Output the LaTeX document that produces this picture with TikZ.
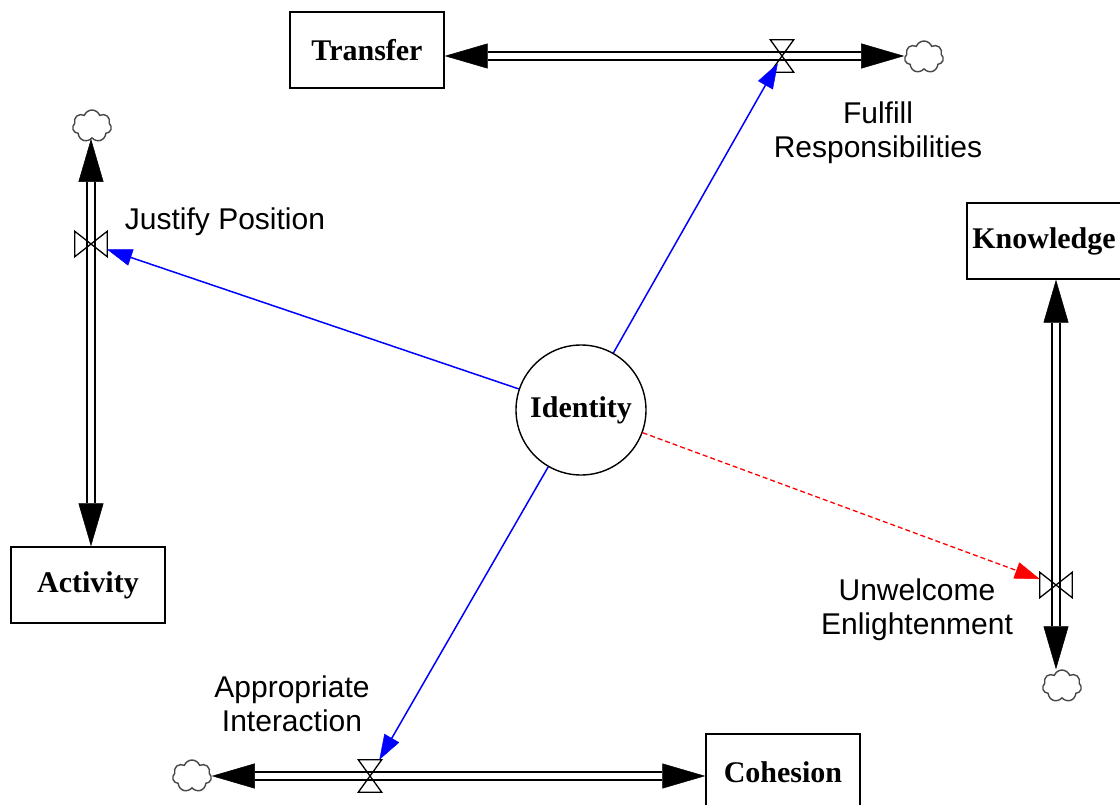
\documentclass[tikz,border=0pt]{standalone}
\usepackage{fontspec}
\setmainfont{Liberation Serif}
\newfontfamily\labelfont{Liberation Sans}
\usetikzlibrary{arrows.meta,shapes.symbols}

\tikzset{
  stock/.style={draw, line width=1.4pt, minimum width=154pt, minimum height=76pt,
    inner sep=0pt, font=\fontsize{30}{34}\selectfont\bfseries},
  level/.style={draw, circle, line width=1.4pt, minimum size=130pt, inner sep=0pt,
    font=\fontsize{30}{34}\selectfont\bfseries},
  source/.style={cloud, cloud puffs=7, cloud puff arc=140, aspect=1.2,
    minimum width=39pt, minimum height=32pt, inner sep=0pt,
    draw=black!72, line width=1.4pt},
  valveh/.style={minimum width=23pt, minimum height=32pt, inner sep=0pt},
  valvev/.style={minimum width=32pt, minimum height=25pt, inner sep=0pt},
  valveline/.style={draw, line width=1.3pt, line join=miter},
  pipe/.style={draw, line width=2.1pt, double=white, double distance=5.3pt,
    -{Triangle[length=43pt,width=25pt,line width=0.5pt]}},
  link/.style={draw=blue, line width=1.5pt,
    -{Triangle[length=25pt,width=17pt,line width=0.5pt]}},
  redlink/.style={draw=red, line width=1.3pt, dash pattern=on 5pt off 3pt,
    -{Triangle[length=25pt,width=17pt,line width=0.5pt]}},
  flowlabel/.style={align=center, font=\labelfont\fontsize{30}{34}\selectfont}
}

\begin{document}
\begin{tikzpicture}[x=1pt,y=-1pt]
  \useasboundingbox (0,0) rectangle (1120,805);
  \clip (0,0) rectangle (1120,805);

  % stocks and the central level
  \node[stock] (tr)  at (367,50)  {Transfer};
  \node[stock] (act) at (88,585)  {Activity};
  \node[stock] (kn)  at (1044,241) {Knowledge};
  \node[stock] (coh) at (783,772) {Cohesion};
  \node[level] (id)  at (581,410) {Identity};

  % clouds (sources and sinks)
  \node[source] (cT) at (924,57)  {};
  \node[source] (cJ) at (92,126)  {};
  \node[source] (cU) at (1062,686) {};
  \node[source] (cA) at (192,776) {};

  % valves
  \node[valveh] (vT) at (782,56)  {};
  \node[valvev] (vJ) at (91,244)  {};
  \node[valvev] (vU) at (1056,585) {};
  \node[valveh] (vA) at (370,776) {};

  % flow pipes
  \draw[pipe] (vT.center) -- (vT -| tr.east);
  \draw[pipe] (vT.center) -- (vT -| cT.west);
  \draw[pipe] (vJ.center) -- (vJ |- cJ.south);
  \draw[pipe] (vJ.center) -- (vJ |- act.north);
  \draw[pipe] (vU.center) -- (vU |- kn.south);
  \draw[pipe] (vU.center) -- (vU |- cU.north);
  \draw[pipe] (vA.center) -- (vA -| cA.east);
  \draw[pipe] (vA.center) -- (vA -| coh.west);

  % valve symbols
  \draw[valveline] (vT.north west) -- (vT.north east) -- (vT.south west) -- (vT.south east) -- cycle;
  \draw[valveline] (vA.north west) -- (vA.north east) -- (vA.south west) -- (vA.south east) -- cycle;
  \draw[valveline] (vJ.north west) -- (vJ.south west) -- (vJ.north east) -- (vJ.south east) -- cycle;
  \draw[valveline] (vU.north west) -- (vU.south west) -- (vU.north east) -- (vU.south east) -- cycle;

  % influences of identity
  \draw[link, shorten >=-10pt] (id) -- (vT);
  \draw[link] (id) -- (vJ);
  \draw[link] (id) -- (vA);
  \draw[redlink] (id) -- (vU);

  % flow names
  \node[flowlabel] (lJ) at (225,222) {Justify Position};
  \node[flowlabel] (lT) at (878,133) {Fulfill\\Responsibilities};
  \node[flowlabel] (lU) at (917,610) {Unwelcome\\Enlightenment};
  \node[flowlabel] (lA) at (292,704) {Appropriate\\Interaction};
\end{tikzpicture}
\end{document}
